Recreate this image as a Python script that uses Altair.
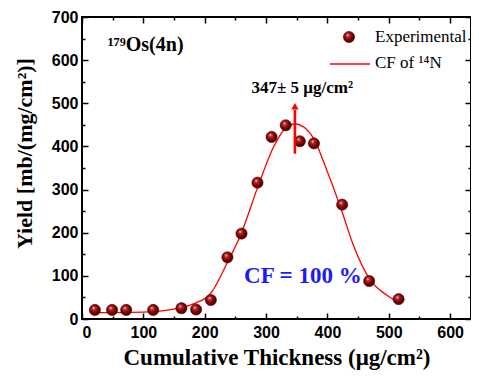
import altair as alt
import pandas as pd

# ---- data ----
thickness = [21, 49, 72, 116, 162, 186, 210, 237, 260, 286, 309, 332, 355, 378, 424, 468, 516]
yield_exp = [21, 21, 21, 21, 25, 22, 44, 143, 198, 316, 422, 449, 412, 407, 265, 88, 46]

fit_x = [22, 60, 100, 130, 160, 185, 209, 236, 260, 287, 312, 330, 347, 365, 377, 399, 423, 442, 470, 497, 518]
fit_y = [15, 15, 16, 19, 26, 37, 58, 128, 200, 308, 398, 440, 452, 441, 420, 345, 252, 172, 90, 55, 37]

x_major = [0, 100, 200, 300, 400, 500, 600]
x_minor = [50, 150, 250, 350, 450, 550]
y_major = [0, 100, 200, 300, 400, 500, 600, 700]
y_minor = [50, 150, 250, 350, 450, 550, 650]

peak_x = 347
arrow_from = 383
arrow_to = 485

exp_df = pd.DataFrame({"x": thickness, "y": yield_exp})
fit_df = pd.DataFrame({"x": fit_x, "y": fit_y})
arrow_df = pd.DataFrame({"x": [peak_x], "y": [arrow_from], "y2": [arrow_to], "yh": [arrow_to + 8]})

XS = alt.Scale(domain=[0, 634], nice=False, zero=False)
YS = alt.Scale(domain=[0, 700], nice=False, zero=False)

SANS = "Liberation Sans"
SERIF = "Liberation Serif"


def axis(orient, values, size, labels=False, title="", **kw):
    opts = dict(orient=orient, values=values, tickSize=size, offset=-size, domain=False,
                grid=False, labels=labels, tickColor="black", tickWidth=1.5, title=title)
    if labels:
        opts.update(labelFont=SANS, labelFontWeight="bold", labelFontSize=16, labelColor="black")
    if title:
        opts.update(titleFont=SERIF, titleFontWeight="bold", titleColor="black")
    opts.update(kw)
    return alt.Axis(**opts)


curve = alt.Chart(fit_df).mark_line(color="#ff0000", strokeWidth=1.3, interpolate="monotone").encode(
    x=alt.X("x:Q", scale=XS, axis=axis("bottom", x_major, 6, labels=True,
                                       title="Cumulative Thickness (μg/cm²)",
                                       titleFontSize=23, labelPadding=5, titlePadding=6)),
    y=alt.Y("y:Q", scale=YS, axis=axis("left", y_major, 6, labels=True,
                                       title="Yield [mb/(mg/cm²)]",
                                       titleFontSize=22, labelPadding=4, titlePadding=15,
                                       titleY=136)),
)

ball_fill = {
    "gradient": "radial",
    "x1": 0.38, "y1": 0.32, "r1": 0.0,
    "x2": 0.45, "y2": 0.45, "r2": 0.62,
    "stops": [
        {"offset": 0.0, "color": "#ffe8e8"},
        {"offset": 0.22, "color": "#b83030"},
        {"offset": 0.6, "color": "#7a0000"},
        {"offset": 1.0, "color": "#3c0000"},
    ],
}

points = alt.Chart(exp_df).mark_point(filled=True, size=125, fill=ball_fill, stroke="#4a0000",
                                      strokeWidth=0.6, opacity=1).encode(
    x=alt.X("x:Q", scale=XS, axis=axis("top", x_major, 6)),
    y=alt.Y("y:Q", scale=YS, axis=axis("right", y_major, 6)),
)

arrow = alt.Chart(arrow_df).mark_rule(color="#ff0000", strokeWidth=2.6).encode(
    x=alt.X("x:Q", scale=XS, axis=axis("bottom", x_minor, 3)),
    y=alt.Y("y:Q", scale=YS, axis=axis("left", y_minor, 3)),
    y2="y2:Q",
)

head = alt.Chart(arrow_df).mark_point(shape="triangle-up", filled=True, color="#ff0000",
                                      size=55, opacity=1).encode(
    x=alt.X("x:Q", scale=XS, axis=axis("top", x_minor, 3)),
    y=alt.Y("yh:Q", scale=YS, axis=axis("right", y_minor, 3)),
)

txt = lambda **kw: alt.Chart(pd.DataFrame({"a": [0]})).mark_text(**kw)

label_os = txt(text="¹⁷⁹Os(4n)", font=SERIF, fontWeight="bold", fontSize=20, align="left",
               baseline="middle", color="black").encode(
    x=alt.datum(42, scale=XS, axis=None), y=alt.datum(635, scale=YS, axis=None))

label_peak = txt(text="347± 5 μg/cm²", font=SERIF, fontWeight="bold", fontSize=17, align="center",
                 baseline="middle", color="black").encode(
    x=alt.datum(359, axis=None), y=alt.datum(536, axis=None))

label_cf = txt(text="CF = 100 %", font=SERIF, fontWeight="bold", fontSize=23, align="center",
               baseline="middle", color="#1a1aff").encode(
    x=alt.datum(360, axis=None), y=alt.datum(99, axis=None))

# ---- legend ----
leg_ball = alt.Chart(pd.DataFrame({"a": [0]})).mark_point(
    filled=True, size=125, fill=ball_fill, stroke="#4a0000", strokeWidth=0.6, opacity=1).encode(
    x=alt.value(267), y=alt.value(20))
leg_line = alt.Chart(pd.DataFrame({"a": [0]})).mark_rule(color="#ff0000", strokeWidth=1.3).encode(
    x=alt.value(248), x2=alt.value(288), y=alt.value(47))
leg_t1 = txt(text="Experimental", font=SERIF, fontSize=17, align="left", baseline="middle",
             color="black").encode(x=alt.value(293), y=alt.value(20))
leg_t2 = txt(text="CF of ¹⁴N", font=SERIF, fontSize=17, align="left", baseline="middle",
             color="black").encode(x=alt.value(293), y=alt.value(46))

chart = alt.layer(
    curve, points, arrow, head, label_os, label_peak, label_cf,
    leg_ball, leg_line, leg_t1, leg_t2,
).resolve_axis(x="independent", y="independent").properties(
    width=389, height=302,
    autosize=alt.AutoSizeParams(type="none"),
    padding={"left": 74, "top": 9, "right": 0, "bottom": 52},
    background="white",
).configure_view(stroke="black", strokeWidth=2)

chart.save("out.html", embed_options={"renderer": "svg", "actions": False})
